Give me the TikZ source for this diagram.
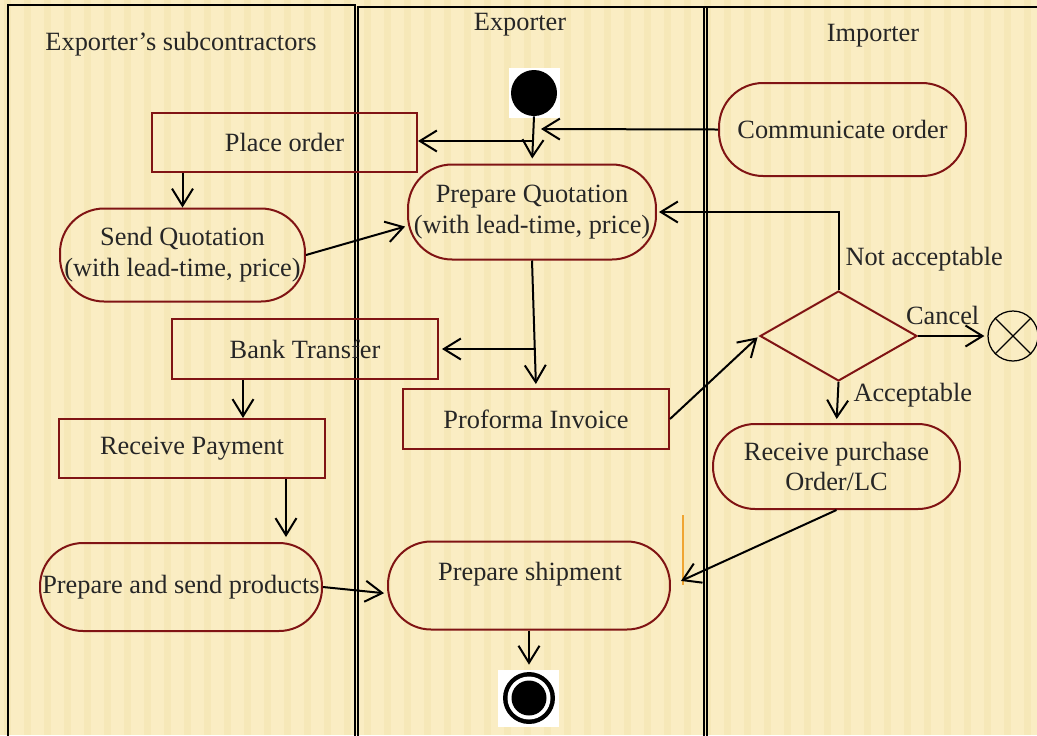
\documentclass[tikz,border=0pt]{standalone}
\usepackage{fontspec}
\setmainfont{Liberation Serif}
\usetikzlibrary{arrows.meta,shapes.geometric}
\definecolor{bg}{RGB}{250,237,195}
\definecolor{stripe}{RGB}{243,226,172}
\definecolor{dred}{RGB}{128,20,20}
\definecolor{txt}{RGB}{38,38,38}
\definecolor{orangeline}{RGB}{240,165,50}
\begin{document}
\begin{tikzpicture}[x=0.02cm,y=-0.02cm,
  every node/.style={font=\fontsize{15}{17.6}\selectfont, text=txt, inner sep=0pt},
  act/.style={draw=dred, line width=0.04cm, rectangle, align=center},
  rnd/.style={act, rounded corners=0.88cm},
  flow/.style={line width=0.04cm, draw=black, -{Straight Barb[length=0.34cm,width=0.42cm,line width=0.04cm]}},
  lane/.style={line width=0.045cm, draw=black},
  dec/.style={diamond, draw=dred, line width=0.04cm, minimum width=3.14cm, minimum height=1.8cm}
]
\useasboundingbox (0,0) rectangle (1037,735);
\fill[bg] (0,0) rectangle (1037,735);
\foreach \i in {0,...,51} {\fill[stripe, opacity=0.45] (\i*20+4,0) rectangle (\i*20+11,735);}

% swimlanes
\draw[lane] (8,740) -- (8,5) -- (355,5) -- (355,740);
\draw[lane] (358,740) -- (358,7) -- (1040,7);
\draw[lane] (704,740) -- (704,7);
\draw[lane] (707,740) -- (707,7);
\node (l1) at (181,44) {Exporter’s subcontractors};
\node (l2) at (520,25) {Exporter};
\node (l3) at (873,36) {Importer};

% start
\node[fill=white, minimum width=1.02cm, minimum height=1cm] (startbg) at (534.5,93) {};
\node[circle, fill=black, minimum size=0.92cm] (start) at (534,93) {};

% activities
\node[act, minimum width=5.3cm, minimum height=1.18cm] (place) at (284.5,142.5) {Place order};
\node[rnd, minimum width=4.94cm, minimum height=1.86cm] (comm) at (842.5,129.5) {Communicate order};
\node[rnd, minimum width=4.96cm, minimum height=1.9cm] (prepq) at (532,212) {Prepare Quotation\\(with lead-time, price)};
\node[rnd, minimum width=4.9cm, minimum height=1.86cm] (sendq) at (182.5,255) {Send Quotation\\(with lead-time, price)};
\node[act, minimum width=5.32cm, minimum height=1.2cm] (bank) at (305,349) {Bank Transfer};
\node[act, minimum width=5.32cm, minimum height=1.2cm] (proforma) at (536,419) {Proforma Invoice};
\node[dec] (dec) at (838.5,336) {};
\node[circle, draw=black, line width=0.025cm, minimum size=1cm] (cancel) at (1013,336) {};
\draw[line width=0.025cm] (cancel.north east) -- (cancel.south west) (cancel.north west) -- (cancel.south east);
\node[rnd, minimum width=4.94cm, minimum height=1.7cm, rounded corners=0.84cm] (recv) at (836.5,466.5) {Receive purchase\\Order/LC};
\node[act, minimum width=5.32cm, minimum height=1.18cm] (pay) at (192,448.5) {Receive Payment};
\node[rnd, minimum width=5.64cm, minimum height=1.76cm, rounded corners=0.86cm] (prod) at (181,587) {Prepare and send products};
\node[rnd, minimum width=5.64cm, minimum height=1.76cm, rounded corners=0.86cm] (ship) at (529,585.5) {};
\node (shiptxt) at (530,574) {Prepare shipment};

% end
\node[fill=white, minimum width=1.22cm, minimum height=1.14cm] (endbg) at (528.5,698.5) {};
\node[circle, fill=black, minimum size=1.04cm] (endo) at (529,698) {};
\fill[white] (endo.center) circle (0.43cm);
\fill[black] (endo.center) circle (0.35cm);

% stray orange mark
\draw[orangeline, line width=0.05cm] (683,515) -- (683,585);

% connectors
\coordinate (j1) at (534,141);
\coordinate (c1) at (541,129);
\coordinate (j2) at (535,349);
\draw[flow, shorten >=0.1cm] (start.south) -- (prepq.north);
\draw[flow] (j1) -- (place.east |- j1);
\draw[flow] (comm.west) -- (c1);
\draw[flow] (sendq.north |- place.south) -- (sendq.north);
\draw[flow, shorten >=0.04cm] (sendq.east) -- ([yshift=-0.28cm]prepq.west);
\draw[flow, shorten >=0.08cm] (prepq.south) -- (proforma.north);
\draw[flow, shorten >=0.06cm] (j2) -- (bank.east |- j2);
\draw[flow] ([xshift=-1.24cm]bank.south) -- ([xshift=-1.24cm]bank.south |- pay.north);
\draw[flow, shorten >=0.1cm] ([xshift=1.88cm]pay.south) -- ([xshift=1.88cm]pay.south |- prod.north);
\draw[flow, shorten >=0.06cm] (prod.east) -- ([yshift=-0.16cm]ship.west);
\draw[flow, shorten >=0.04cm] (proforma.east) -- (dec.west);
\draw[flow, shorten >=0.04cm] (dec.north) |- (prepq.east)
  node[pos=0.2, anchor=west, xshift=0.12cm] (na) {Not acceptable};
\draw[flow, shorten >=0.06cm] (dec.east) -- (cancel.west)
  node[midway, above, xshift=-0.2cm, yshift=0.2cm] (cl) {Cancel};
\draw[flow, shorten >=0.08cm] (dec.south) -- (recv.north)
  node[midway, anchor=west, xshift=0.3cm, yshift=0.14cm] (al) {Acceptable};
\draw[flow, shorten >=0.22cm] (recv.south) -- (ship.east);
\draw[flow, shorten >=0.14cm] (ship.south) -- (endo.north);
\end{tikzpicture}
\end{document}
